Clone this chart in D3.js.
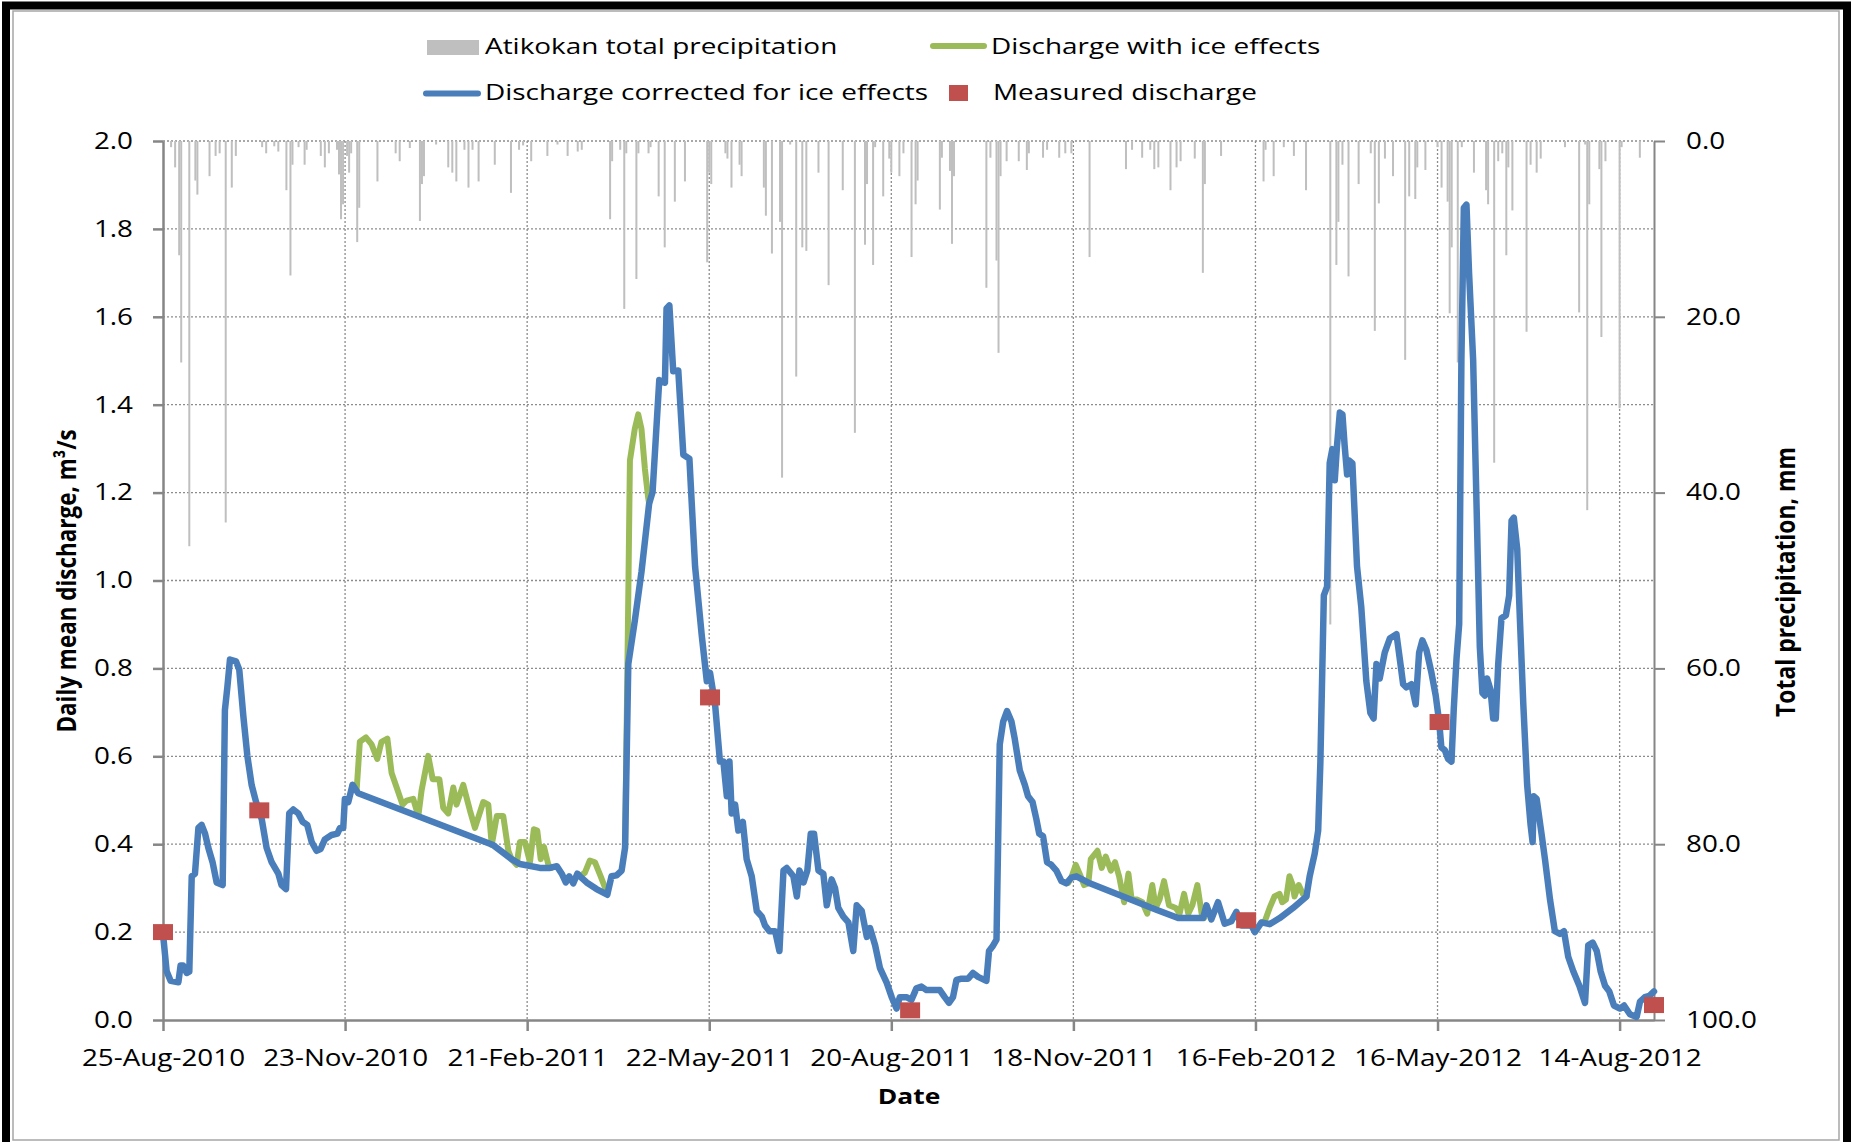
<!DOCTYPE html>
<html><head><meta charset="utf-8">
<script src="https://cdn.jsdelivr.net/npm/d3@7/dist/d3.min.js"></script>
<style>body{margin:0;background:#fff}svg{display:block}</style>
</head><body>
<svg id="chart" width="1851" height="1142"></svg>
<script>
// ---------- DATA (days counted from 25-Aug-2010) ----------
const startDay = Date.UTC(2010, 7, 25);
const tickDays = [0, 90, 180, 270, 360, 450, 540, 630, 720];
const endDay = 737;
const yTicks = [0, 0.2, 0.4, 0.6, 0.8, 1.0, 1.2, 1.4, 1.6, 1.8, 2.0];
const y2Ticks = [0, 20, 40, 60, 80, 100];

// Discharge corrected for ice effects [day, m3/s]
const correctedDischarge = [[0,0.196],[1.8,0.111],[3.8,0.089],[7.6,0.086],[8.7,0.124],[10,0.124],[11.7,0.107],[13,0.11],[14.2,0.327],[15.8,0.333],[17.5,0.437],[19.1,0.444],[20.8,0.424],[22.4,0.392],[24.5,0.359],[26.5,0.313],[29.5,0.307],[30.6,0.705],[31.8,0.757],[33.1,0.82],[36.1,0.816],[37.7,0.797],[39.7,0.692],[41.7,0.601],[43.8,0.535],[46,0.496],[48.8,0.457],[51.2,0.392],[53.7,0.359],[57,0.333],[58.6,0.307],[60.8,0.298],[62.4,0.47],[64.4,0.479],[66.9,0.47],[69,0.451],[71.3,0.444],[73.5,0.405],[75.9,0.385],[77.9,0.389],[80,0.411],[83.3,0.421],[86.2,0.424],[87.5,0.437],[89.1,0.437],[89.9,0.503],[91.6,0.496],[93.7,0.535],[96.5,0.516],[163.2,0.398],[172.3,0.366],[176.4,0.355],[186.3,0.346],[191.3,0.346],[194.7,0.35],[197.1,0.333],[199.1,0.313],[200.8,0.327],[202.8,0.311],[204.8,0.333],[206.1,0.327],[209.4,0.313],[214.3,0.298],[219.6,0.285],[221.7,0.327],[224.2,0.329],[226.7,0.34],[228.4,0.392],[230,0.81],[233.2,0.908],[236.5,1.019],[240.3,1.175],[242,1.201],[245.3,1.456],[248.1,1.45],[248.9,1.619],[250.3,1.626],[252.2,1.476],[254.7,1.478],[257.2,1.286],[260.2,1.277],[263,1.032],[266.3,0.875],[268.8,0.771],[270.4,0.79],[272.9,0.718],[275.3,0.588],[277,0.588],[278.7,0.509],[280,0.588],[281.1,0.47],[282.8,0.49],[284.4,0.431],[286.6,0.451],[288.5,0.366],[291,0.327],[293.5,0.248],[296,0.235],[297.6,0.215],[299.8,0.202],[302.6,0.202],[304.7,0.157],[306.7,0.34],[308.3,0.346],[311.6,0.327],[313.3,0.281],[314.6,0.34],[316.6,0.313],[318.5,0.34],[320.2,0.424],[321.8,0.424],[324,0.34],[326.4,0.333],[328.1,0.261],[330.5,0.32],[332.2,0.3],[333.8,0.255],[336.3,0.235],[338.8,0.222],[341.2,0.157],[342.9,0.261],[345.4,0.248],[347.9,0.189],[349.5,0.209],[352,0.17],[354.4,0.118],[357.7,0.085],[360.2,0.052],[362.6,0.026],[364.2,0.052],[367.5,0.052],[370,0.046],[372.4,0.072],[374.9,0.076],[377.4,0.068],[384,0.068],[386.4,0.052],[388.5,0.039],[390.5,0.052],[392.2,0.091],[394.7,0.094],[398,0.094],[400.4,0.107],[402.9,0.098],[407,0.089],[408.3,0.157],[410,0.167],[412,0.183],[413.6,0.627],[415.3,0.679],[417.2,0.703],[419.4,0.679],[421,0.64],[423.5,0.568],[426,0.535],[427.6,0.509],[429.8,0.496],[431.7,0.457],[433.1,0.424],[435,0.418],[437,0.359],[439.1,0.353],[441.6,0.34],[444.1,0.316],[446.5,0.311],[449,0.324],[451.5,0.327],[458.1,0.311],[474.6,0.281],[491,0.251],[501.8,0.232],[514.1,0.232],[515.8,0.261],[518.2,0.229],[521.5,0.268],[524.8,0.219],[528.1,0.225],[530.6,0.246],[533.1,0.215],[538,0.215],[539.7,0.2],[543,0.222],[547,0.218],[552,0.232],[558.6,0.255],[565.2,0.281],[566.8,0.327],[569.3,0.379],[571,0.431],[572.1,0.588],[573.8,0.966],[575.4,0.986],[576.7,1.267],[578,1.299],[579.2,1.228],[580.3,1.306],[581.7,1.382],[583,1.378],[584.1,1.306],[585.3,1.241],[586.3,1.273],[587.9,1.267],[590.2,1.032],[592.3,0.94],[594.8,0.771],[596.8,0.699],[598.4,0.686],[599.8,0.81],[601.4,0.777],[603.9,0.836],[606.4,0.868],[609.7,0.878],[611.3,0.823],[613,0.764],[614.6,0.757],[617.1,0.764],[619.2,0.718],[620.9,0.836],[622.5,0.864],[624.5,0.842],[627,0.79],[629.1,0.738],[630.8,0.679],[631.9,0.62],[633.6,0.614],[635.2,0.594],[636.9,0.588],[638,0.705],[639.4,0.823],[640.7,0.901],[641.8,1.502],[643,1.848],[644.3,1.855],[645.6,1.698],[647.6,1.502],[649.6,1.11],[650.9,0.849],[652.2,0.744],[653.4,0.738],[654.5,0.777],[656.2,0.751],[657.5,0.686],[658.8,0.686],[660,0.81],[661.6,0.914],[663.8,0.921],[665.4,0.966],[666.6,1.136],[667.7,1.143],[669.4,1.071],[670.7,0.914],[672.4,0.718],[674.3,0.535],[676,0.444],[677,0.405],[677.6,0.509],[679,0.503],[681.4,0.424],[683.1,0.366],[685.6,0.274],[688,0.202],[690.5,0.196],[692.5,0.202],[694.6,0.144],[697.1,0.111],[700.1,0.078],[702.9,0.039],[704.5,0.17],[706.7,0.176],[708.7,0.157],[710.6,0.111],[712.8,0.078],[714.9,0.065],[717.2,0.033],[720.2,0.026],[722.2,0.033],[725.1,0.013],[728.4,0.007],[730.1,0.042],[732.5,0.052],[734.7,0.055],[737,0.065]];

// Discharge with ice effects (only where it differs), segments separated by null
const iceDischarge = [[93.7,0.535],[95.7,0.522],[97.3,0.633],[100.3,0.643],[103.1,0.627],[105.9,0.594],[108,0.633],[110.9,0.64],[113,0.562],[115.5,0.529],[118.4,0.49],[120.4,0.499],[123.7,0.503],[126.2,0.464],[127.8,0.522],[131.1,0.601],[133.3,0.548],[136.6,0.548],[138.5,0.483],[141,0.47],[143.5,0.529],[145.1,0.49],[148.4,0.535],[151.7,0.477],[154.2,0.437],[158.3,0.496],[160.8,0.49],[162.5,0.398],[165,0.464],[168.2,0.464],[170.7,0.385],[172.3,0.366],[174.8,0.353],[176.4,0.405],[178.9,0.405],[181.4,0.359],[183.3,0.434],[185,0.431],[186.7,0.366],[188.3,0.394],[190.5,0.353],[192,0.346],
 null,
 [206.1,0.327],[208.5,0.335],[211,0.363],[213.5,0.359],[216.5,0.325],[219.6,0.288],
 null,
 [228.4,0.392],[229.6,0.816],[230.8,1.273],[233.2,1.345],[234.9,1.378],[236.5,1.345],[238.2,1.254],[239.8,1.189],[240.3,1.175],
 null,
 [447.5,0.312],[449.2,0.327],[451.2,0.353],[453.6,0.327],[455.3,0.307],[457.4,0.311],[458.6,0.366],[461.9,0.385],[464,0.346],[466,0.372],[468.5,0.34],[470.6,0.359],[472.6,0.327],[475.1,0.268],[477.2,0.333],[478.8,0.274],[481.6,0.274],[484.1,0.268],[486.5,0.242],[489,0.307],[490.7,0.255],[492.6,0.274],[494.8,0.316],[497.3,0.261],[500.6,0.255],[502.5,0.242],[504.7,0.287],[506.8,0.242],[508.8,0.261],[511.3,0.307],[513.4,0.242],[514.6,0.232],
 null,
 [543,0.222],[544.4,0.222],[547,0.255],[549.4,0.281],[551.9,0.287],[553.2,0.268],[555.1,0.274],[556.8,0.327],[558.4,0.307],[559.3,0.281],[561.4,0.307],[563.4,0.287],[565.2,0.281]];

// Measured discharge [day, m3/s]
const measuredDischarge = [[0,0.2],[47.6,0.477],[270.4,0.734],[369.3,0.022],[535.4,0.227],[631,0.678],[737,0.034]];

// Atikokan total precipitation [day, mm]
const precipitation = [[4,0.7],[6,3.0],[8,13.0],[9,25.2],[13,46.1],[16,4.5],[17,6.1],[23,4.0],[26,1.7],[28,1.4],[31,43.4],[34,5.3],[36,1.7],[49,0.7],[51,1.4],[55,0.6],[57,1.2],[61,5.6],[63,15.3],[64,2.7],[67,0.7],[70,2.7],[71,1.0],[78,1.7],[80,3.0],[82,1.4],[86,1.0],[87,3.8],[88,8.9],[89,7.2],[91,1.7],[92,3.6],[93,1.4],[96,11.5],[97,7.6],[106,4.6],[115,1.4],[117,2.3],[122,0.8],[127,9.1],[128,4.9],[129,4.0],[135,0.4],[141,3.0],[143,3.6],[145,4.6],[149,1.0],[151,5.3],[153,1.0],[156,4.6],[164,2.7],[172,5.9],[176,1.0],[178,0.5],[182,2.3],[190,1.7],[195,0.4],[200,1.7],[205,1.2],[207,1.0],[221,8.9],[222,2.3],[226,1.0],[228,19.1],[229,1.4],[234,15.7],[235,1.4],[240,1.4],[241,0.7],[245,6.3],[248,12.1],[253,6.9],[258,4.6],[269,13.8],[270,3.6],[271,4.9],[278,1.4],[279,2.0],[281,5.3],[285,2.7],[286,4.0],[297,5.3],[298,8.5],[301,12.8],[305,9.2],[306,38.3],[310,0.4],[313,26.8],[316,12.1],[318,12.5],[324,3.6],[329,16.4],[336,5.6],[342,33.2],[347,11.8],[348,4.9],[351,14.1],[352,0.7],[356,6.3],[359,2.0],[360,3.6],[364,4.0],[366,1.4],[370,13.2],[372,7.2],[373,4.5],[384,7.8],[385,1.9],[389,3.4],[390,11.7],[391,4.0],[407,16.7],[409,1.9],[412,13.6],[413,24.1],[414,4.0],[417,2.3],[423,2.3],[427,3.3],[428,1.4],[435,1.9],[437,1.0],[443,1.9],[446,1.4],[449,1.4],[458,13.2],[476,3.2],[479,1.0],[484,1.9],[488,1.0],[490,3.2],[492,3.0],[498,5.6],[501,3.0],[503,2.3],[510,2.0],[514,15.0],[515,4.9],[523,1.7],[544,4.6],[545,1.0],[549,4.0],[554,0.7],[559,1.7],[565,5.6],[577,55.0],[580,14.1],[581,9.2],[583,2.7],[586,15.4],[591,4.9],[597,1.4],[599,21.6],[601,7.1],[604,2.0],[608,4.0],[614,24.9],[616,6.3],[619,6.6],[620,3.0],[624,3.3],[630,0.7],[632,5.3],[635,6.9],[636,19.6],[637,12.1],[640,25.2],[642,0.7],[648,3.6],[654,5.6],[655,7.2],[658,36.6],[660,2.3],[662,1.4],[664,13.0],[665,3.0],[667,7.9],[674,21.7],[676,2.7],[679,3.6],[681,2.0],[693,0.7],[700,19.5],[703,0.4],[704,42.0],[705,7.2],[710,3.2],[711,22.3],[713,2.3],[720,30.4],[721,0.7],[730,1.9]];

const legendLabels = ["Atikokan total precipitation","Discharge with ice effects","Discharge corrected for ice effects","Measured discharge"];

// ---------- CHART ----------
const toDate = d => new Date(startDay + d * 864e5);
const svg = d3.select("#chart");
const L = 163, R = 1654, T = 141, B = 1020;
const FONT = "'Open Sans', 'Noto Sans', sans-serif";
const SX = 1.21;

const x = d3.scaleUtc().domain([toDate(0), toDate(endDay)]).range([L, R]);
const y = d3.scaleLinear().domain([0, 2]).range([B, T]);
const y2 = d3.scaleLinear().domain([0, 100]).range([T, B]);

svg.append("rect").attr("width",1851).attr("height",1142).attr("fill","#fff");
// frame
svg.append("rect").attr("x",13).attr("y",11).attr("width",1826).attr("height",1129)
  .attr("fill","none").attr("stroke","#a6a6a6").attr("stroke-width",1.5);
svg.append("path").attr("d","M6,1150 V5.5 H1847 V1150").attr("fill","none")
  .attr("stroke","#000").attr("stroke-width",8);

function stretch(sel, sx) {
  sel.each(function() {
    const t = d3.select(this);
    const tx = +t.attr("x") || 0, ty = +t.attr("y") || 0;
    t.attr("x", 0).attr("y", 0).attr("transform", `translate(${tx},${ty}) scale(${sx},1)`);
  });
}

// gridlines
const grid = svg.append("g").attr("stroke","#8c8c8c").attr("stroke-width",1.3).attr("stroke-dasharray","2,2");
grid.selectAll(".h").data(yTicks.filter(v => v > 0)).join("line")
  .attr("x1", L).attr("x2", R).attr("y1", d => y(d)).attr("y2", d => y(d));
grid.selectAll(".v").data(tickDays.filter(d => d > 0)).join("line")
  .attr("x1", d => x(toDate(d))).attr("x2", d => x(toDate(d))).attr("y1", T).attr("y2", B);

// axes
function styleAxis(g, width) {
  g.select(".domain").attr("stroke","#868686").attr("stroke-width",width);
  g.selectAll(".tick line").attr("stroke","#868686").attr("stroke-width",width);
  g.selectAll("text").attr("font-family",FONT).attr("font-size",23).attr("fill","#000");
}
const gx = svg.append("g").attr("transform",`translate(0,${B})`)
  .call(d3.axisBottom(x).tickValues(tickDays.map(toDate)).tickFormat(d3.utcFormat("%d-%b-%Y")).tickSize(11).tickSizeOuter(0).tickPadding(19));
styleAxis(gx, 2.5);
stretch(gx.selectAll("text"), SX);

const gy = svg.append("g").attr("transform",`translate(${L},0)`)
  .call(d3.axisLeft(y).tickValues(yTicks).tickFormat(d3.format(".1f")).tickSize(10).tickSizeOuter(0).tickPadding(20));
styleAxis(gy, 2.5);
stretch(gy.selectAll("text"), SX);

const gy2 = svg.append("g").attr("transform",`translate(${R},0)`)
  .call(d3.axisRight(y2).tickValues(y2Ticks).tickFormat(d3.format(".1f")).tickSize(11).tickSizeOuter(0).tickPadding(21));
styleAxis(gy2, 2);
stretch(gy2.selectAll("text"), SX);

// axis titles
svg.append("text").attr("transform",`translate(909,1104) scale(1.2,1)`)
  .attr("text-anchor","middle").attr("font-family",FONT).attr("font-weight","bold").attr("font-size",22).text("Date");
svg.append("text").attr("transform",`translate(76,581) rotate(-90) scale(1.02,1.2)`)
  .attr("text-anchor","middle").attr("font-family",FONT).attr("font-weight","bold").attr("font-size",22).text("Daily mean discharge, m³/s");
svg.append("text").attr("transform",`translate(1795,582) rotate(-90) scale(1.04,1.2)`)
  .attr("text-anchor","middle").attr("font-family",FONT).attr("font-weight","bold").attr("font-size",22).text("Total precipitation, mm");

// precipitation bars
svg.append("g").selectAll("rect").data(precipitation).join("rect")
  .attr("x", d => x(toDate(d[0])) - 1).attr("width", 2)
  .attr("y", y2(0)).attr("height", d => y2(d[1]) - y2(0))
  .attr("fill", "#bfbfbf");

// lines
const line = d3.line().defined(d => d !== null).x(d => x(toDate(d[0]))).y(d => y(d[1]));
svg.append("path").datum(iceDischarge).attr("d", line).attr("fill","none")
  .attr("stroke","#9bbb59").attr("stroke-width",6).attr("stroke-linejoin","round").attr("stroke-linecap","round");
svg.append("path").datum(correctedDischarge).attr("d", line).attr("fill","none")
  .attr("stroke","#4a7ebb").attr("stroke-width",6.5).attr("stroke-linejoin","round").attr("stroke-linecap","round");

// measured markers
svg.append("g").selectAll("rect").data(measuredDischarge).join("rect")
  .attr("x", d => x(toDate(d[0])) - 10).attr("y", d => y(d[1]) - 8)
  .attr("width", 20).attr("height", 16).attr("fill","#c0504d");

// legend
const lg = svg.append("g").attr("font-family",FONT).attr("font-size",22).attr("fill","#000");
lg.append("rect").attr("x",427).attr("y",40).attr("width",52).attr("height",15).attr("fill","#bfbfbf");
lg.append("line").attr("x1",933).attr("x2",984).attr("y1",46).attr("y2",46).attr("stroke","#9bbb59").attr("stroke-width",6).attr("stroke-linecap","round");
lg.append("line").attr("x1",426).attr("x2",478).attr("y1",93.5).attr("y2",93.5).attr("stroke","#4a7ebb").attr("stroke-width",6).attr("stroke-linecap","round");
lg.append("rect").attr("x",949).attr("y",85).attr("width",19).attr("height",16).attr("fill","#c0504d");
const legPos = [[485,53.5],[991,53.5],[485,100],[993,100]];
legendLabels.forEach((t,i) => {
  lg.append("text").attr("transform",`translate(${legPos[i][0]},${legPos[i][1]}) scale(1.27,1)`).text(t);
});
</script>
</body></html>
